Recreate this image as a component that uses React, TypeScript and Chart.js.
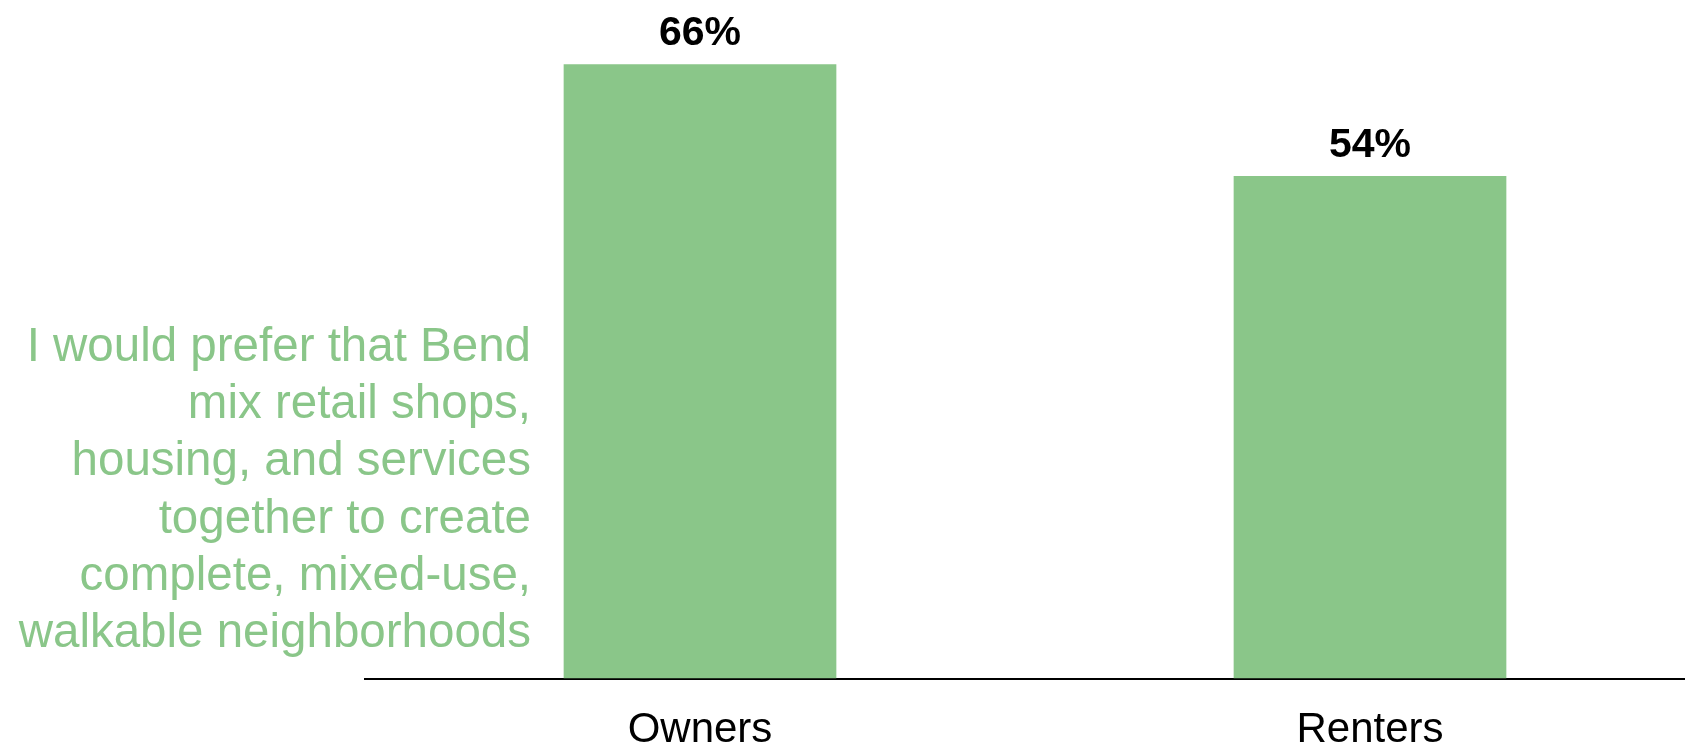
import React, { useEffect, useRef } from "react";
import { Chart, registerables } from "chart.js";

Chart.register(...registerables);

const categories = ["Owners", "Renters"];
const values = [66, 54];
const annotationLines = [
  "I would prefer that Bend",
  "mix retail shops,",
  "housing, and services",
  "together to create",
  "complete, mixed-use,",
  "walkable neighborhoods",
];

const GREEN = "rgb(138,198,137)";
const FONT = "'Liberation Sans', Arial, sans-serif";

const valueLabels = {
  id: "valueLabels",
  afterDatasetsDraw(chart: any) {
    const ctx = chart.ctx;
    const meta = chart.getDatasetMeta(0);
    ctx.save();
    ctx.font = `bold 41px ${FONT}`;
    ctx.fillStyle = "#000";
    ctx.textAlign = "center";
    ctx.textBaseline = "alphabetic";
    meta.data.forEach((bar: any, i: number) => {
      ctx.fillText(`${values[i]}%`, bar.x, bar.y - 19);
    });
    ctx.restore();
  },
};

const annotation = {
  id: "annotation",
  afterDraw(chart: any) {
    const ctx = chart.ctx;
    ctx.save();
    ctx.font = `47.5px ${FONT}`;
    ctx.fillStyle = GREEN;
    ctx.textAlign = "right";
    ctx.textBaseline = "alphabetic";
    annotationLines.forEach((line, i) => {
      ctx.fillText(line, 531, 361 + i * 57.2);
    });
    ctx.restore();
  },
};

export default function App() {
  const ref = useRef<HTMLCanvasElement>(null);
  useEffect(() => {
    if (!ref.current) return;
    const chart = new Chart(ref.current, {
      type: "bar",
      data: {
        labels: categories,
        datasets: [
          {
            data: values,
            backgroundColor: GREEN,
            borderWidth: 0,
            barPercentage: 0.407,
            categoryPercentage: 1,
          },
        ],
      },
      options: {
        animation: false,
        responsive: true,
        maintainAspectRatio: false,
        layout: { padding: { left: 365, right: 0, top: 27, bottom: -34 } },
        plugins: { legend: { display: false }, tooltip: { enabled: false } },
        scales: {
          x: {
            grid: { display: false, drawTicks: false },
            border: { display: true, color: "#000", width: 2 },
            ticks: {
              color: "#000",
              font: { family: FONT, size: 42 },
              padding: 27,
              maxRotation: 0,
            },
          },
          y: {
            display: false,
            min: 0,
            max: 70,
          },
        },
      },
      plugins: [valueLabels, annotation],
    });
    return () => chart.destroy();
  }, []);
  return (
    <div style={{ position: "fixed", left: 0, top: 0, width: 1685, height: 749, overflow: "hidden", background: "#fff" }}>
      <div style={{ position: "absolute", left: 0, top: 0, width: 1705, height: 749 }}>
        <canvas ref={ref} />
      </div>
    </div>
  );
}
